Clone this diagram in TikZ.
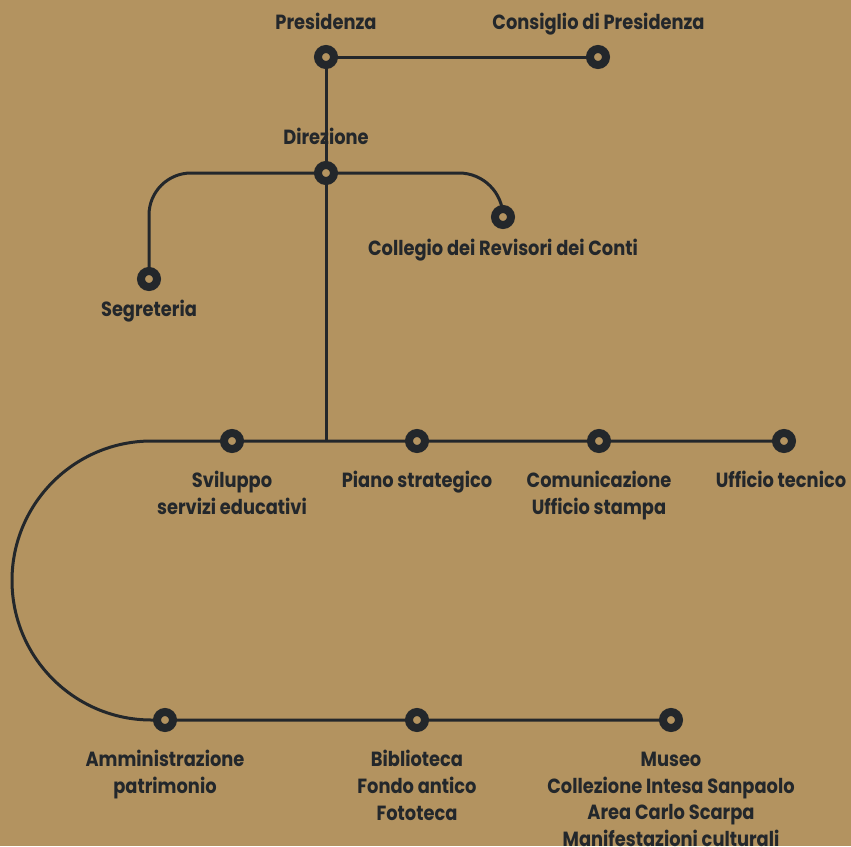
\documentclass[tikz,border=0pt]{standalone}
\usepackage{fontspec}
\setmainfont{Poppins}[FakeStretch=0.87]
\definecolor{bgc}{RGB}{179,147,96}
\definecolor{ink}{RGB}{35,39,43}
\pgfdeclarelayer{bgl}
\pgfdeclarelayer{lines}
\pgfsetlayers{bgl,lines,main}
\tikzset{
  dot/.style={circle,draw=ink,fill=bgc,line width=8pt,minimum size=16pt,inner sep=0pt,outer sep=0pt},
  lbl/.style={anchor=base,text=ink,font=\fontsize{20.5}{26.7}\selectfont\bfseries,align=center,inner sep=0pt},
  conn/.style={draw=ink,line width=3pt},
}
\begin{document}
\begin{tikzpicture}[x=1pt,y=1pt]
\useasboundingbox (0,0) rectangle (851,-846);
\begin{pgfonlayer}{bgl}
  \fill[bgc] (0,0) rectangle (851,-846);
\end{pgfonlayer}
% markers
\node[dot] (pres) at (326,-57) {};
\node[dot] (cons) at (598,-57) {};
\node[dot] (dir) at (326,-173) {};
\node[dot] (seg) at (149,-279) {};
\node[dot] (coll) at (503,-217) {};
\coordinate (j) at (326,-441);
\node[dot] (sv) at (232,-441) {};
\node[dot] (pia) at (417,-441) {};
\node[dot] (com) at (599,-441) {};
\node[dot] (uff) at (784,-441) {};
\coordinate (arcstart) at (151.5,-441);
\node[dot] (amm) at (165,-720) {};
\node[dot] (bib) at (417,-720) {};
\node[dot] (mus) at (671,-720) {};
% labels
\node[lbl] (lpres) at (326,-29) {Presidenza};
\node[lbl] (lcons) at (598.5,-29) {Consiglio di Presidenza};
\node[lbl] (ldir) at (326,-144) {Direzione};
\node[lbl] (lseg) at (149,-316) {Segreteria};
\node[lbl] (lcoll) at (503,-255) {Collegio dei Revisori dei Conti};
\node[lbl] (lsv) at (232,-514) {Sviluppo\\servizi educativi};
\node[lbl] (lpia) at (417,-487) {Piano strategico};
\node[lbl] (lcom) at (599,-514) {Comunicazione\\Ufficio stampa};
\node[lbl] (luff) at (781,-487) {Ufficio tecnico};
\node[lbl] (lamm) at (165,-793) {Amministrazione\\patrimonio};
\node[lbl] (lbib) at (417,-820) {Biblioteca\\Fondo antico\\Fototeca};
\node[lbl] (lmus) at (671,-846.5) {Museo\\Collezione Intesa Sanpaolo\\Area Carlo Scarpa\\Manifestazioni culturali};
% connectors
\begin{pgfonlayer}{lines}
  \draw[conn] (pres.center) -- (cons.center);
  \draw[conn] (pres.center) -- (dir.center);
  \draw[conn,rounded corners=42pt] (dir.center) -| (seg.center);
  \draw[conn,rounded corners=44pt] (dir.center) -| (coll.center);
  \draw[conn] (dir.center) -- (j);
  \draw[conn] (uff.center) -- (sv.center) -- (arcstart) arc[start angle=90,end angle=270,radius=139.5pt] -- (mus.center);
\end{pgfonlayer}
\end{tikzpicture}
\end{document}
